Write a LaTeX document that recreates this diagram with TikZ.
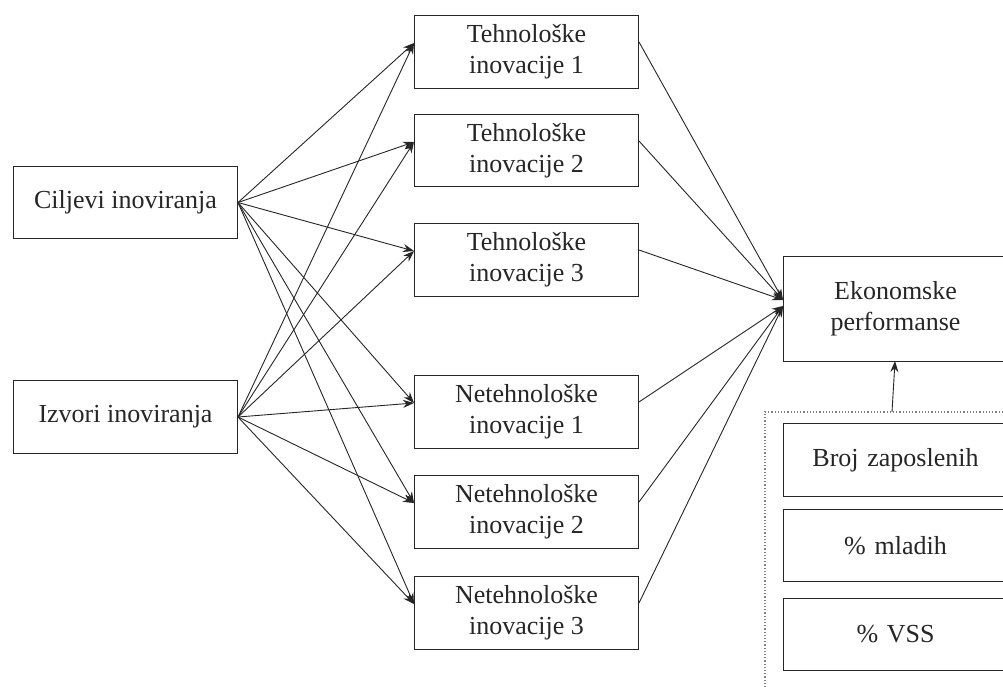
\documentclass[tikz,border=0pt]{standalone}
\usepackage{fontspec}
\setmainfont{Liberation Serif}
\usetikzlibrary{arrows.meta,calc}
\begin{document}
\begin{tikzpicture}[x=1pt,y=-1pt,
  box/.style={draw=black!85,line width=1pt,anchor=north west,align=center,inner sep=0pt,
    font=\fontsize{26}{31}\selectfont,text=black!85},
  conn/.style={draw=black!85,line width=0.9pt,-{Stealth[length=11pt,width=8pt]}},
  plain/.style={draw=black!85,line width=0.9pt}]
\useasboundingbox (0,0) rectangle (1003,686);
\fill[white] (0,0) rectangle (1003,686);
% left
\node[box,minimum width=224pt,minimum height=72pt] (C) at (13,166) {Ciljevi inoviranja};
\node[box,minimum width=224pt,minimum height=73pt] (I) at (13,380) {Izvori inoviranja};
% middle
\node[box,minimum width=224pt,minimum height=73pt] (T1) at (414,15) {Tehnološke\\inovacije 1};
\node[box,minimum width=224pt,minimum height=72pt] (T2) at (414,114) {Tehnološke\\inovacije 2};
\node[box,minimum width=224pt,minimum height=73pt] (T3) at (414,223) {Tehnološke\\inovacije 3};
\node[box,minimum width=224pt,minimum height=73pt] (N1) at (414,375) {Netehnološke\\inovacije 1};
\node[box,minimum width=224pt,minimum height=73pt] (N2) at (414,475) {Netehnološke\\inovacije 2};
\node[box,minimum width=224pt,minimum height=73pt] (N3) at (414,576) {Netehnološke\\inovacije 3};
% right
\node[box,minimum width=240pt,minimum height=105pt,text width=224pt] (E) at (783,256) {\hspace*{-16pt}Ekonomske\\\hspace*{-16pt}performanse};
\node[box,minimum width=240pt,minimum height=73pt,text width=224pt] (B) at (783,423) {\hspace*{-16pt}Broj zaposlenih};
\node[box,minimum width=240pt,minimum height=72pt,text width=224pt] (M) at (783,509) {\hspace*{-16pt}\% mladih};
\node[box,minimum width=240pt,minimum height=72pt,text width=224pt] (V) at (783,598) {\hspace*{-16pt}\% VSS};
% dotted frame
\coordinate (D0) at (765,700);
\coordinate (D1) at (765,412);
\coordinate (D2) at (1010,412);
\coordinate (DA) at (892,412);
\draw[black!50,line width=1.2pt,dotted] (D0) -- (D1) -- (D2);
% anchor points on middle boxes
\foreach \n in {T1,T2,T3,N1,N2,N3}{
  \coordinate (\n L) at ($(\n.north west)+(0,28)$);
  \coordinate (\n R) at ($(\n.north east)+(0,27)$);
}
\coordinate (EL1) at ($(E.north west)+(0,44)$);
\coordinate (EL2) at ($(E.north west)+(0,50)$);
\coordinate (Ein) at (895,361);
\foreach \n in {T1,T2,T3,N1,N2,N3}{
  \draw[conn] (C.east) -- (\n L);
  \draw[conn] (I.east) -- (\n L);
}
\draw[conn] (T1R) -- (EL1);
\draw[conn] (T2R) -- (EL1);
\draw[conn] (T3R) -- (EL1);
\draw[conn] (N1R) -- (EL2);
\draw[conn] (N2R) -- (EL2);
\draw[conn] (N3R) -- (EL2);
\draw[conn] (DA) -- (Ein);
\end{tikzpicture}
\end{document}
